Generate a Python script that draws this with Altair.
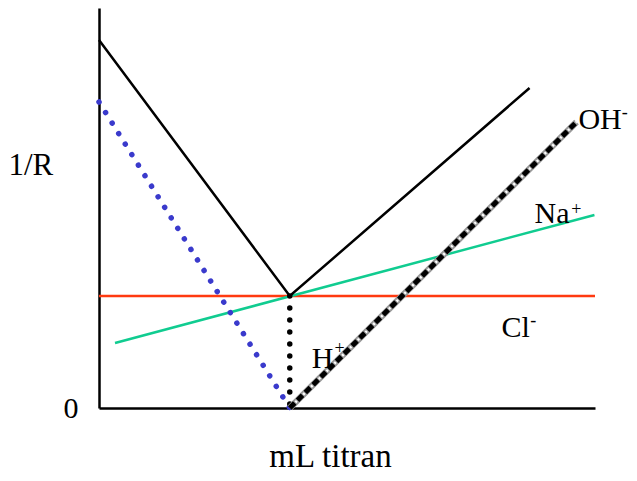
import altair as alt
import pandas as pd

FONT = "Liberation Serif"

# Conductometric titration curve (1/R vs mL titrant); equivalence point at x = 10
total_x = [0, 10, 22.57]
total_y = [0.92, 0.28, 0.80]

h_x = [0, 10]
h_y = [0.765, 0.0]

eq_x = [10, 10]
eq_y = [0.28, 0.0]

cl_x = [0, 26]
cl_y = [0.28, 0.28]

na_x = [0.84, 25.97]
na_y = [0.1625, 0.4825]

oh_x = [10, 25.03]
oh_y = [0.0, 0.715]

label_text = ["OH", "Na", "Cl", "H"]
label_x = [25.13, 22.83, 21.1, 11.15]
label_y = [0.6975, 0.4625, 0.1775, 0.10]

sup_text = ["-", "+", "-", "+"]
sup_x = [27.4, 24.76, 22.6, 12.35]
sup_y = [0.725, 0.4825, 0.205, 0.135]

y_tick_values = [0]

xs = alt.Scale(domain=[0, 26], nice=False, zero=False)
ys = alt.Scale(domain=[0, 1], nice=False, zero=False)

X = alt.X("x:Q", scale=xs, title="mL titran",
          axis=alt.Axis(labels=False, ticks=False, grid=False, domain=True,
                        domainColor="black", domainWidth=2.5,
                        titleFont=FONT, titleFontSize=33, titleFontWeight="normal",
                        titleColor="black", titleX=231, titleY=58,
                        titleBaseline="alphabetic", titleAlign="center"))
Y = alt.Y("y:Q", scale=ys, title="1/R",
          axis=alt.Axis(values=y_tick_values, labels=True, ticks=False, grid=False,
                        domain=True, domainColor="black", domainWidth=2.5,
                        labelFont=FONT, labelFontSize=30, labelColor="black",
                        labelPadding=21, labelBaseline="middle",
                        titleFont=FONT, titleFontSize=31, titleFontWeight="normal",
                        titleColor="black", titleAngle=0, titleX=-91, titleY=157,
                        titleAlign="left", titleBaseline="middle"))


def seg(xv, yv):
    return pd.DataFrame({"x": xv, "y": yv})


def line(df, **kw):
    return alt.Chart(df).mark_line(clip=False, **kw).encode(x=X, y=Y)


red = line(seg(cl_x, cl_y), color="#ff3a10", strokeWidth=2.5)
green = line(seg(na_x, na_y), color="#10cc90", strokeWidth=2.5)
blue = line(seg(h_x, h_y), color="#3a3acc", strokeWidth=5.5,
            strokeDash=[0.01, 12.4], strokeCap="round")
blackdot = line(seg(eq_x, eq_y), color="black", strokeWidth=5.5,
                strokeDash=[0.01, 12], strokeCap="round")
oh_base = line(seg(oh_x, oh_y), color="#999999", strokeWidth=6.5)
oh_dash = line(seg(oh_x, oh_y), color="black", strokeWidth=5, strokeDash=[7, 4])
oh_white = line(seg(oh_x, oh_y), color="white", strokeWidth=2.5,
                strokeDash=[2, 9], strokeDashOffset=3)
total = line(seg(total_x, total_y), color="black", strokeWidth=2.5)

labels = alt.Chart(pd.DataFrame({"t": label_text, "x": label_x, "y": label_y})).mark_text(
    font=FONT, fontSize=30, align="left", baseline="alphabetic", color="black"
).encode(x=X, y=Y, text="t:N")

sups = alt.Chart(pd.DataFrame({"t": sup_text, "x": sup_x, "y": sup_y})).mark_text(
    font=FONT, fontSize=18, align="left", baseline="alphabetic", color="black"
).encode(x=X, y=Y, text="t:N")

chart = alt.layer(
    red, green, blue, blackdot, oh_base, oh_dash, oh_white, total, labels, sups
).properties(
    width=496, height=400,
    autosize=alt.AutoSizeParams(type="none"),
    padding={"left": 91, "top": 0, "right": 34, "bottom": 65},
).configure_view(stroke=None)

chart.save("out.html", embed_options={"renderer": "svg", "actions": False})
